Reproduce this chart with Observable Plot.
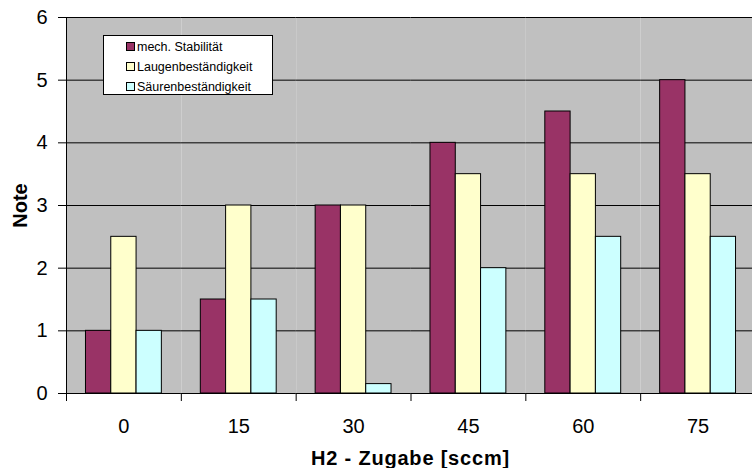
<!DOCTYPE html>
<html>
<head>
<meta charset="utf-8">
<script src="https://cdn.jsdelivr.net/npm/d3@7"></script>
<script src="https://cdn.jsdelivr.net/npm/@observablehq/plot@0.6"></script>
<style>
  body { margin: 0; background: #fff; overflow: hidden; font-family: "Liberation Sans", Arial, sans-serif; }
  #wrap { position: relative; width: 752px; height: 468px; }
  #legend {
    position: absolute; left: 103px; top: 35px; width: 168px; height: 58px;
    background: #fff; border: 1px solid #000; font-size: 12.5px; color: #000;
  }
  #legend .row { position: absolute; left: 22px; height: 14px; line-height: 14px; white-space: nowrap; }
  #legend .sw { display: inline-block; width: 7px; height: 7px; border: 1px solid #000; margin-right: 2px; vertical-align: 0px; }
  #xtitle {
    position: absolute; left: 66px; width: 689px; top: 448px; text-align: center;
    font-size: 20px; line-height: 20px; font-weight: bold; letter-spacing: 0.8px; color: #000;
  }
</style>
</head>
<body>
<div id="wrap"></div>
<script>
// H2-Zugabe in sccm (Kategorien) und Noten je Eigenschaft
const zugabe = ["0", "15", "30", "45", "60", "75"];
const serien = ["mech. Stabilität", "Laugenbeständigkeit", "Säurenbeständigkeit"];
const mechStabilitaet = [1, 1.5, 3, 4, 4.5, 5];
const laugenbestaendigkeit = [2.5, 3, 3, 3.5, 3.5, 3.5];
const saeurenbestaendigkeit = [1, 1.5, 0.15, 2, 2.5, 2.5];
const farben = ["#993366", "#ffffcc", "#ccffff"];
const yTicks = [0, 1, 2, 3, 4, 5, 6];
const xTitel = "H2 - Zugabe [sccm]";
const yTitel = "Note";

const werte = [mechStabilitaet, laugenbestaendigkeit, saeurenbestaendigkeit];
const rows = zugabe.flatMap((z, i) =>
  serien.map((s, k) => ({zugabe: z, serie: s, note: werte[k][i]}))
);

const fxRange = [66, 755];
const step = (fxRange[1] - fxRange[0]) / zugabe.length;

const chart = Plot.plot({
  width: 752,
  height: 446,
  marginLeft: 66,
  marginRight: 0,
  marginTop: 17,
  marginBottom: 53,
  style: {fontFamily: "'Liberation Sans', Arial, sans-serif", color: "#000", background: "#fff"},
  fx: {domain: zugabe, range: fxRange, padding: 0, round: false, label: null},
  x: {domain: serien, paddingInner: 0, paddingOuter: 0.77, round: false, axis: null},
  y: {domain: [0, 6], label: null},
  color: {domain: serien, range: farben},
  marks: [
    Plot.frame({fill: "#c0c0c0", stroke: "none"}),
    Plot.gridY(yTicks.slice(1), {stroke: "#000", strokeOpacity: 1}),
    Plot.barY(rows, {fx: "zugabe", x: "serie", y: "note", fill: "serie", stroke: "#000", strokeWidth: 1, insetLeft: 0, insetRight: 0}),
    Plot.ruleY([0], {stroke: "#000"}),
    Plot.frame({anchor: "left", facetAnchor: "left", stroke: "#000"}),
    Plot.axisY(yTicks, {tickSize: 8, tickPadding: 11, fontSize: 20, tickFormat: d => String(d), label: null, stroke: "#000"}),
    Plot.axisFx({anchor: "bottom", tickSize: 0, tickPadding: 25, fontSize: 20, label: null}),
    Plot.axisFx({anchor: "bottom", tickSize: 8, tickFormat: () => "", dx: -step / 2, label: null, stroke: "#000"}),
    Plot.text([yTitel], {
      frameAnchor: "left", facetAnchor: "left", rotate: -90, textAnchor: "middle",
      dx: -46, fontSize: 20, fontWeight: "bold", fill: "#000"
    })
  ]
});

const wrap = document.getElementById("wrap");
wrap.appendChild(chart);

// Legende
const legend = document.createElement("div");
legend.id = "legend";
serien.forEach((s, k) => {
  const row = document.createElement("div");
  row.className = "row";
  row.style.top = (4 + k * 20) + "px";
  const sw = document.createElement("span");
  sw.className = "sw";
  sw.style.background = farben[k];
  row.appendChild(sw);
  row.appendChild(document.createTextNode(s));
  legend.appendChild(row);
});
wrap.appendChild(legend);

// Achsentitel unten
const xt = document.createElement("div");
xt.id = "xtitle";
xt.textContent = xTitel;
wrap.appendChild(xt);
</script>
</body>
</html>
